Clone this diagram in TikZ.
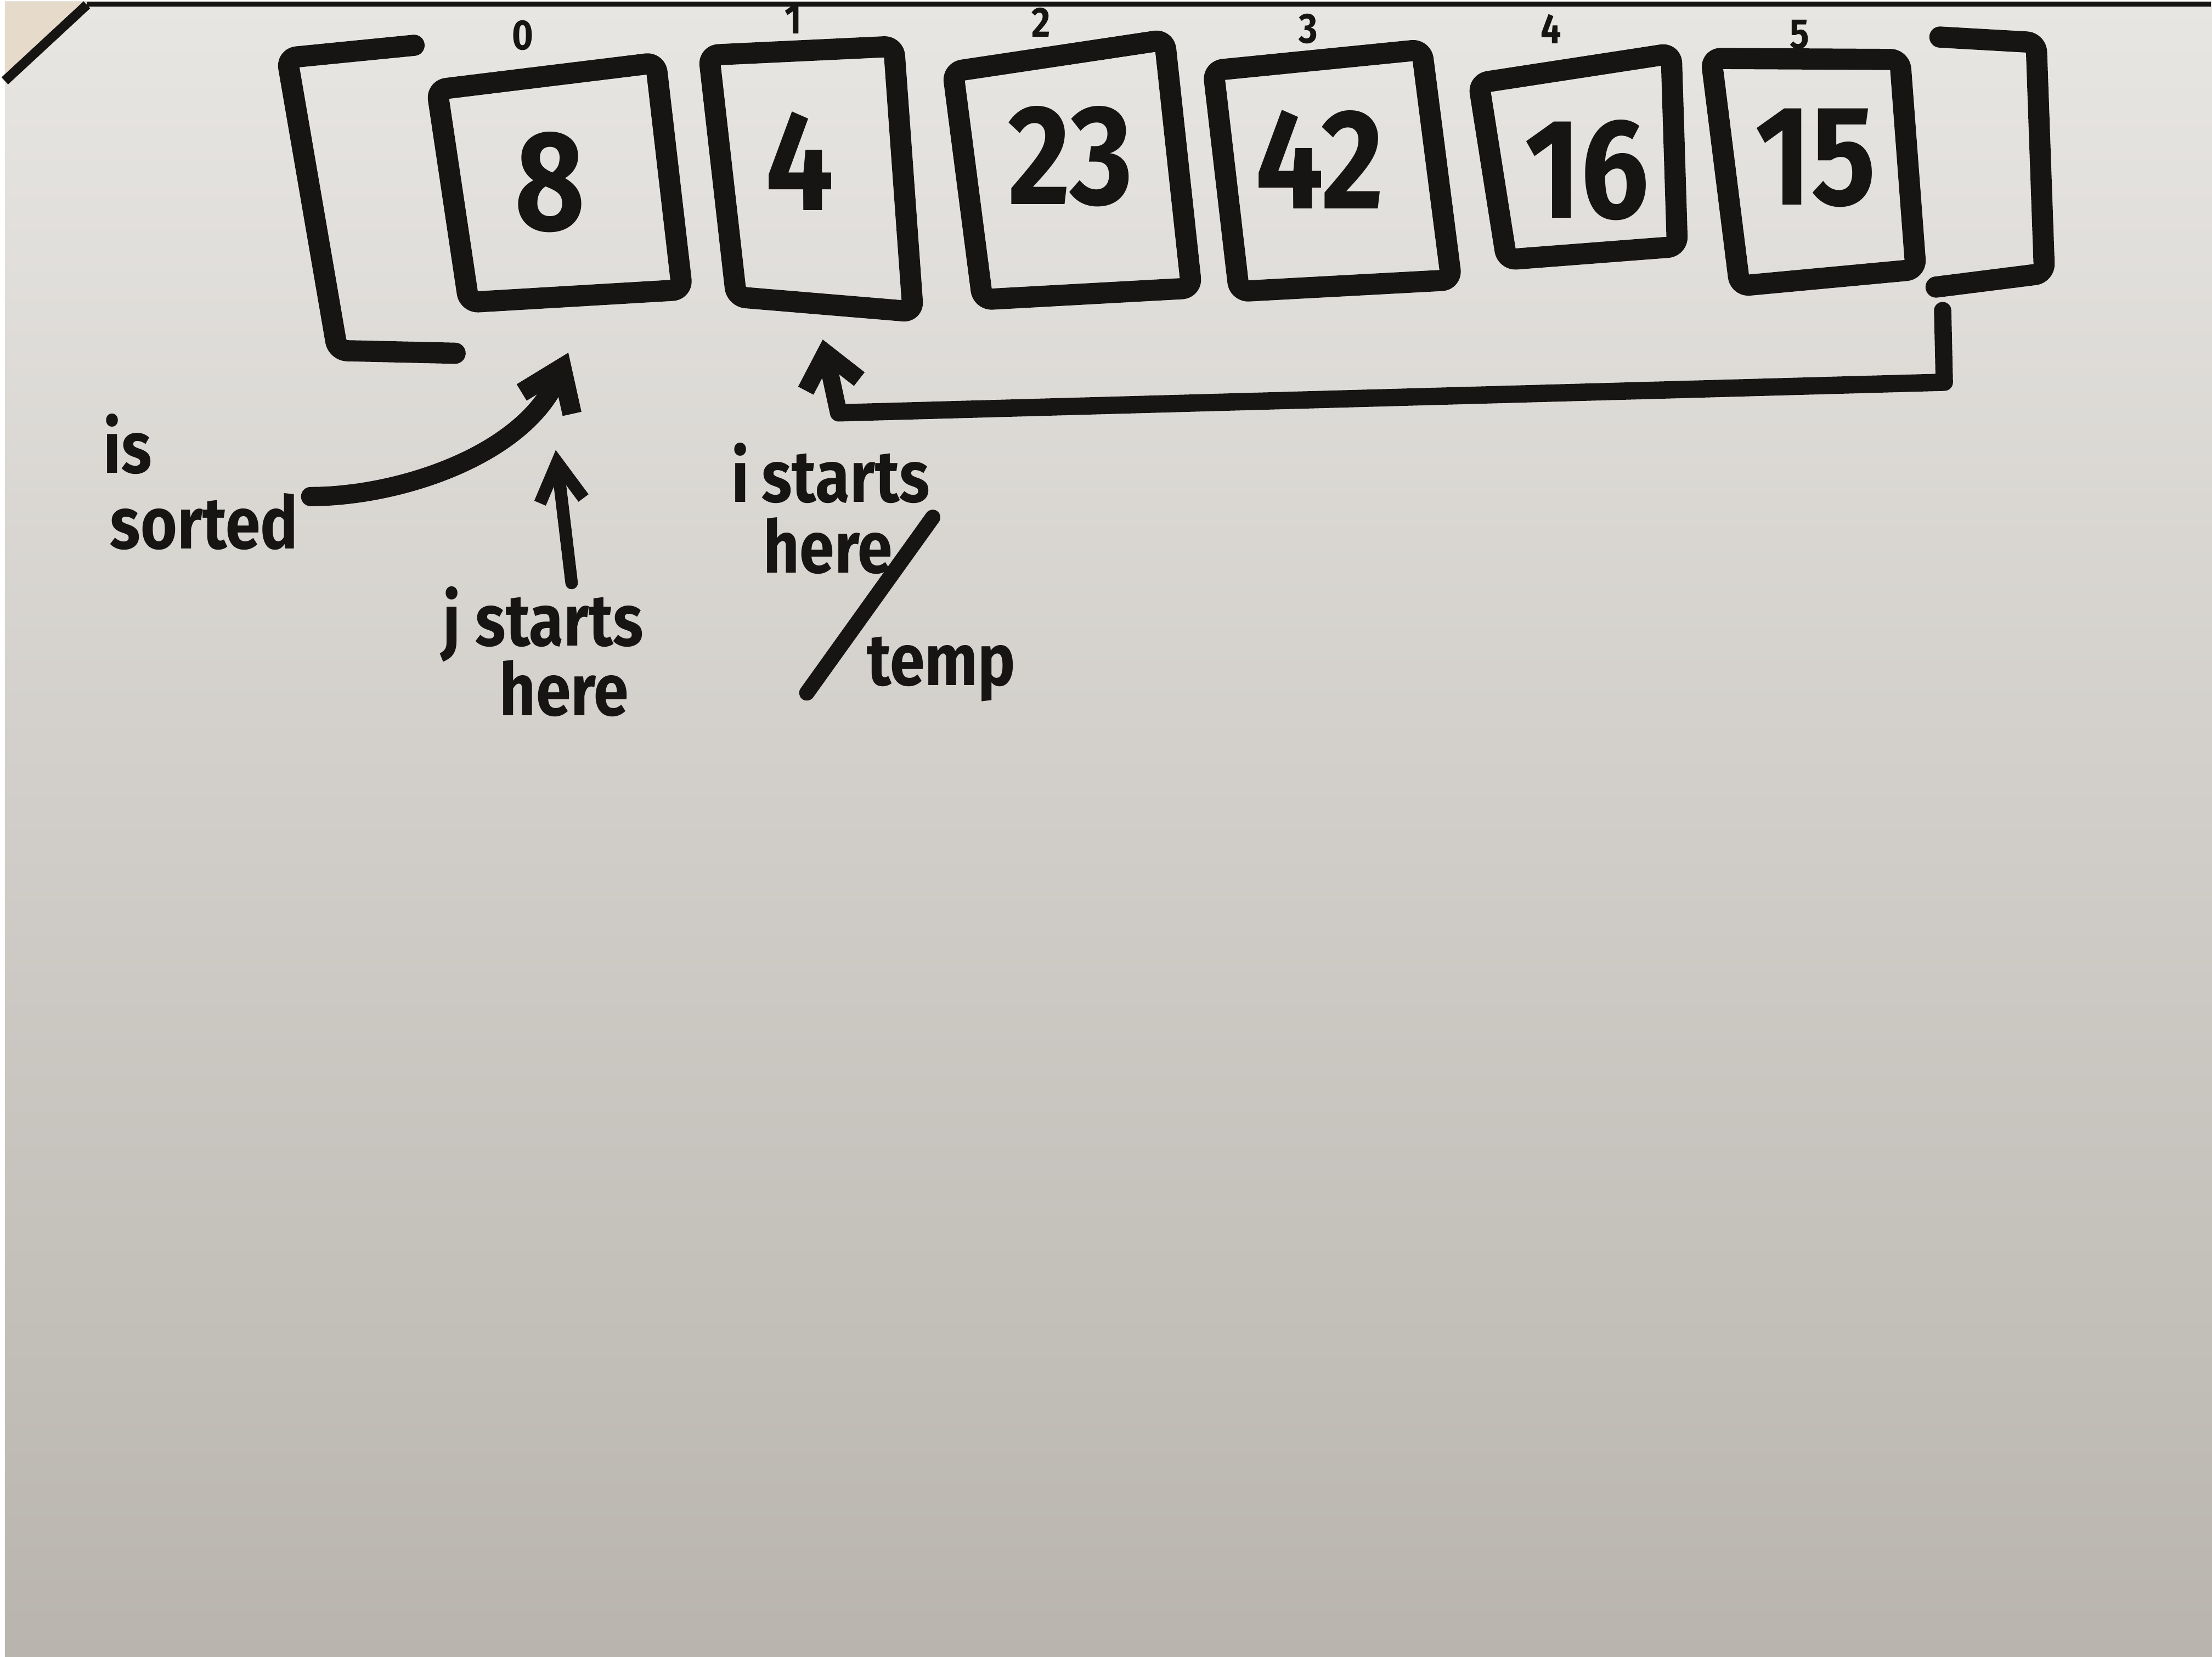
\documentclass[tikz,border=0pt]{standalone}
\usepackage{fontspec}
\newfontfamily\hand[FakeStretch=0.86]{Fira Sans}
\newfontfamily\numfont[FakeStretch=0.85]{Fira Sans}
\usetikzlibrary{arrows.meta}
\definecolor{ink}{HTML}{161514}
\definecolor{boardtop}{HTML}{E8E6E3}
\definecolor{boardmid}{HTML}{D3D0CB}
\definecolor{boardbot}{HTML}{B9B5AE}
\definecolor{wallc}{HTML}{E6DBCB}
\begin{document}
\begin{tikzpicture}[x=0.01cm,y=-0.01cm,
  marker/.style={draw=ink, line width=11pt, line cap=round, line join=round, rounded corners=5pt},
  cell/.style={font=\numfont\bfseries\fontsize{74}{74}\selectfont, text=ink, inner sep=0pt},
  idx/.style={font=\hand\bfseries\fontsize{22}{22}\selectfont, text=ink, inner sep=0pt},
  lbl/.style={font=\hand\bfseries\fontsize{38}{38}\selectfont, text=ink, inner sep=0pt, anchor=base west},
  arr/.style={draw=ink, line cap=round, line join=round},
]
% board
\shade[top color=boardtop, middle color=boardmid, bottom color=boardbot] (0cm,0cm) rectangle (40.32cm,-30.24cm);
\fill[wallc] (0,0) -- (150,0) -- (0,145) -- cycle;
\fill[ink] (150,0) rectangle (4032,9);
\draw[ink, line width=5pt] (0,145) -- (150,6);
\useasboundingbox (0,0) rectangle (4032,3024);

% cells
\draw[marker] (790,161) -- (1190,112) -- (1238,527) -- (848,550) -- cycle;
\draw[marker] (1287,98) -- (1625,82) -- (1660,567) -- (1337,540) -- cycle;
\draw[marker] (1733,128) -- (2120,70) -- (2169,524) -- (1787,545) -- cycle;
\draw[marker] (2209,126) -- (2590,88) -- (2644,509) -- (2256,530) -- cycle;
\draw[marker] (2694,149) -- (3046,95) -- (3057,448) -- (2745,472) -- cycle;
\draw[marker] (3119,104) -- (3464,106) -- (3493,490) -- (3171,520) -- cycle;

\node[cell] (v0) at (997,330) {8};
\node[cell] (v1) at (1453,292) {4};
\node[cell] (v2) at (1948,283) {23};
\node[cell] (v3) at (2403,289) {42};
\node[cell] (v4) at (2892,308) {16};
\node[cell] (v5) at (3310,286) {15};

\node[idx] (i0) at (947,62) {0};
\node[idx] (i1) at (1441,33) {1};
\node[idx] (i2) at (1894,38) {2};
\node[idx] (i3) at (2383,50) {3};
\node[idx] (i4) at (2826,50) {4};
\node[idx] (i5) at (3281,60) {5};

% brackets
\draw[marker] (748,80) -- (516,103) -- (608,638) -- (823,643);
\draw[marker] (3537,65) -- (3713,75) -- (3728,497) -- (3530,522);

% return arrow
\coordinate (retstart) at (3542,565);
\coordinate (retc1) at (3545,696);
\coordinate (retc2) at (1524,752);
\coordinate (itip) at (1495,618);
\draw[arr, line width=9pt, -{Straight Barb[length=0.6cm,width=1.0cm]}] (retstart) -- (retc1) -- (retc2) -- (itip);

% is sorted
\node[lbl] (is) at (180,862) {is};
\node[lbl] (sorted) at (192,1000) {sorted};
\coordinate (sstart) at (559,905);
\coordinate (stip) at (1030,642);
\draw[arr, line width=10pt, -{Straight Barb[length=0.7cm,width=1.0cm]}] (sstart) .. controls (720,905) and (950,830) .. (stip);

% j starts here
\coordinate (jbot) at (1036,1063);
\coordinate (jtip) at (1007,820);
\draw[arr, line width=6.5pt, -{Straight Barb[length=0.7cm,width=0.8cm]}] (jbot) -- (jtip);
\node[lbl] (jlbl) at (800,1178) {j starts};
\node[lbl] (jhere) at (904,1305) {here};

% i starts here / temp
\node[lbl] (ilbl) at (1328,915) {i\,starts};
\node[lbl] (ihere) at (1386,1045) {here};
\node[lbl] (temp) at (1575,1250) {temp};
\coordinate (sl1) at (1696,943);
\coordinate (sl2) at (1466,1264);
\draw[arr, line width=8pt] (sl1) -- (sl2);
\end{tikzpicture}
\end{document}
